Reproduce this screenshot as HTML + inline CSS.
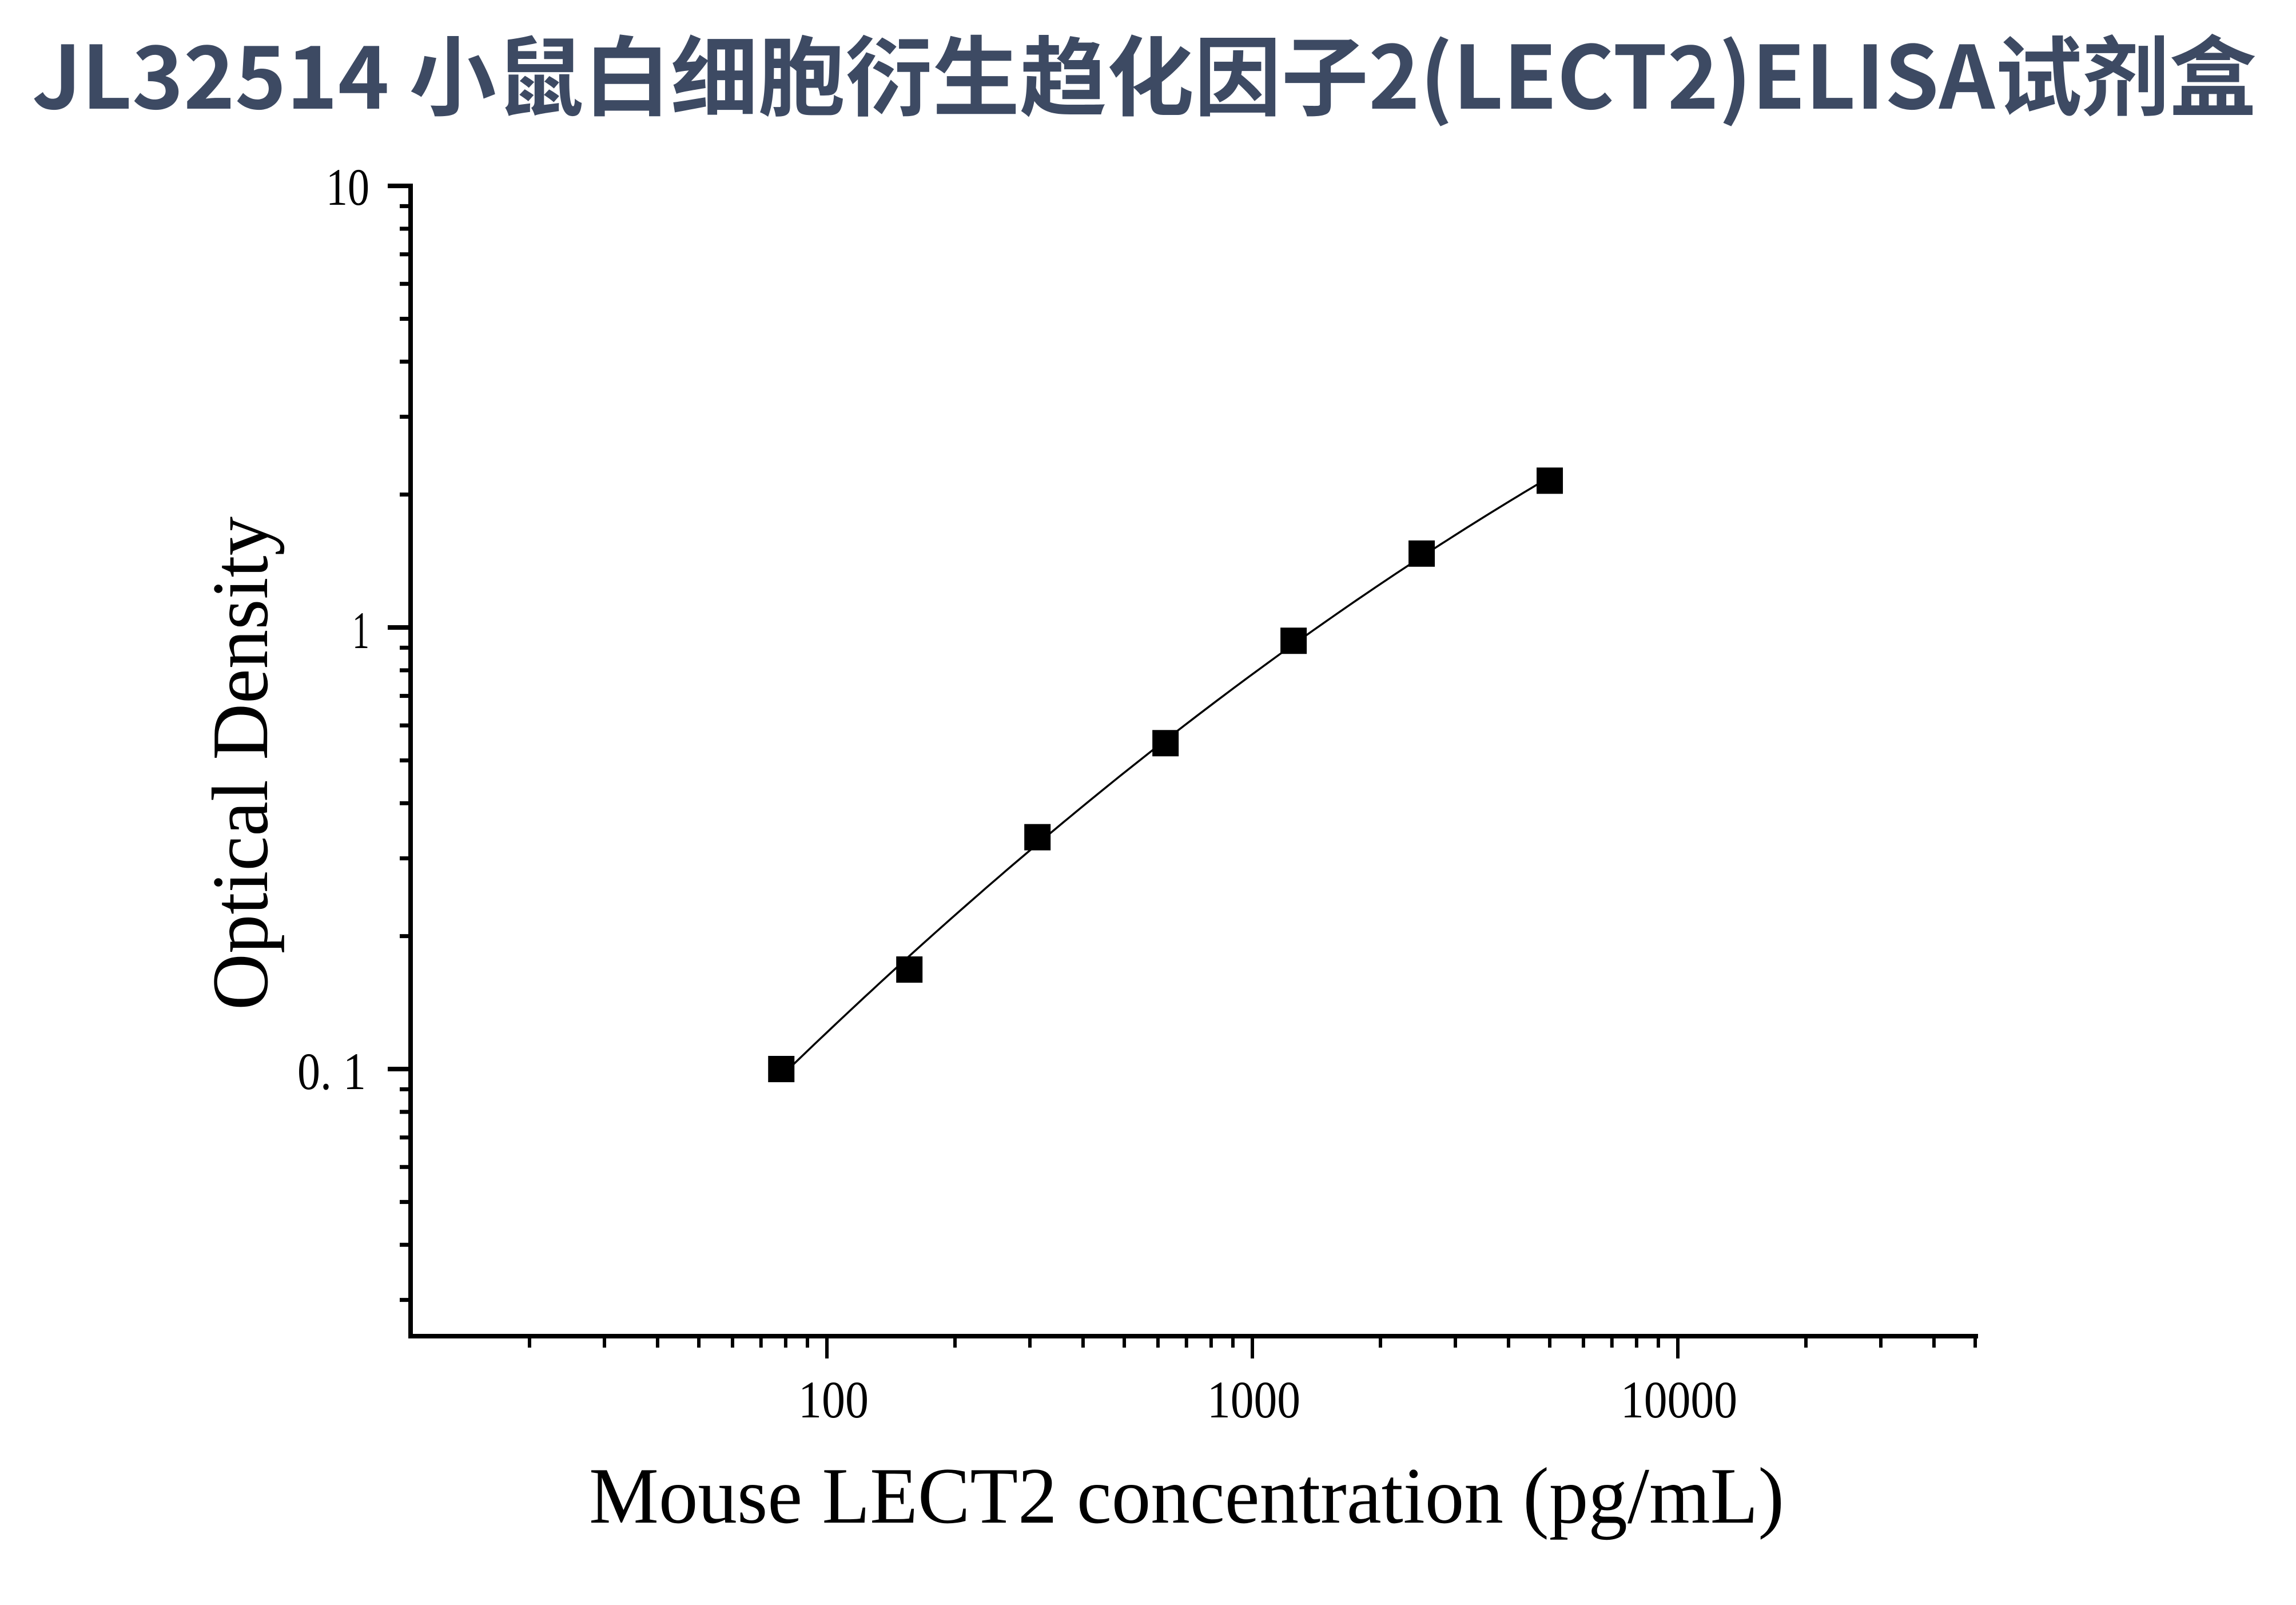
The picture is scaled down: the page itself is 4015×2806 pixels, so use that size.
<!DOCTYPE html>
<html><head><meta charset="utf-8"><style>html,body{margin:0;padding:0;background:#fff}svg{display:block}</style></head>
<body>
<svg id="s" width="4015" height="2806" viewBox="0 0 4015 2806" xmlns="http://www.w3.org/2000/svg">
<rect width="4015" height="2806" fill="#fff"/>
<text x="56" y="190" font-family="'Noto Sans CJK SC','Liberation Sans',sans-serif" font-weight="bold" font-size="152" fill="#3d4a63" textLength="3890" lengthAdjust="spacingAndGlyphs">JL32514 小鼠白细胞衍生趋化因子2(LECT2)ELISA试剂盒</text>
<g id="ax" stroke="#000" fill="none"></g>
<g font-family="'Liberation Serif',serif" font-size="92" fill="#000">
<text x="646" y="358" text-anchor="end" textLength="76" lengthAdjust="spacingAndGlyphs">10</text>
<text x="646" y="1133" text-anchor="end" textLength="30" lengthAdjust="spacingAndGlyphs">1</text>
<text x="640" y="1904" text-anchor="end" textLength="120" lengthAdjust="spacingAndGlyphs">0. 1</text>
<text x="1396" y="2478" textLength="123" lengthAdjust="spacingAndGlyphs">100</text>
<text x="2111" y="2478" textLength="163" lengthAdjust="spacingAndGlyphs">1000</text>
<text x="2834" y="2478" textLength="204" lengthAdjust="spacingAndGlyphs">10000</text>
</g>
<text x="1030" y="2662" font-family="'Liberation Serif',serif" font-size="140" fill="#000" textLength="2090" lengthAdjust="spacingAndGlyphs">Mouse LECT2 concentration (pg/mL)</text>
<text transform="translate(467,1766) rotate(-90)" x="0" y="0" font-family="'Liberation Serif',serif" font-size="140" fill="#000" textLength="863" lengthAdjust="spacingAndGlyphs">Optical Density</text>
<path id="curve" fill="none" stroke="#000" stroke-width="3.5"/>
<g id="pts" fill="#000"></g>
</svg>
<script>
var NS="http://www.w3.org/2000/svg";
function X(v){return 1446+(Math.log10(v)-2)*744;}
function Y(v){return 1869-(Math.log10(v)+1)*772;}
function XL(l){return 1446+(l-2)*744;}
function YL(l){return 1869-(l+1)*772;}
var ax=document.getElementById('ax');
function ln(x1,y1,x2,y2,w){var l=document.createElementNS(NS,'line');l.setAttribute('x1',x1);l.setAttribute('y1',y1);l.setAttribute('x2',x2);l.setAttribute('y2',y2);l.setAttribute('stroke-width',w);ax.appendChild(l);}
ln(718,321,718,2340,8);ln(714,2336,3459,2336,8);
[10,1,0.1].forEach(function(v){ln(678,Y(v),718,Y(v),8);});
[0.03,0.04,0.05,0.06,0.07,0.08,0.09,0.2,0.3,0.4,0.5,0.6,0.7,0.8,0.9,2,3,4,5,6,7,8,9].forEach(function(v){ln(699,Y(v),718,Y(v),7);});
[100,1000,10000].forEach(function(v){ln(X(v),2336,X(v),2375,6);});
var mx=[];[10,100,1000,10000].forEach(function(d){for(var k=2;k<=9;k++){var v=d*k;if(v<=50000)mx.push(v);}});
mx.forEach(function(v){ln(X(v),2336,X(v),2356,6);});
var d=[[78.125,0.1],[156.25,0.168],[312.5,0.335],[625,0.547],[1250,0.933],[2500,1.47],[5000,2.15]];
function f(lx){var t=lx-2.796;return -0.2917+0.751*t-0.1015*(t*t-0.3623);}
var s="";var a=Math.log10(78.125),b=Math.log10(5000);
for(var i=0;i<=120;i++){var lx=a+(b-a)*i/120;s+=(i?" L":"M")+XL(lx).toFixed(1)+","+YL(f(lx)).toFixed(1);}
document.getElementById('curve').setAttribute('d',s);
var g=document.getElementById('pts');
d.forEach(function(q){var r=document.createElementNS(NS,'rect');r.setAttribute('x',X(q[0])-23);r.setAttribute('y',Y(q[1])-23);r.setAttribute('width',46);r.setAttribute('height',46);g.appendChild(r);});
</script>
</body></html>
